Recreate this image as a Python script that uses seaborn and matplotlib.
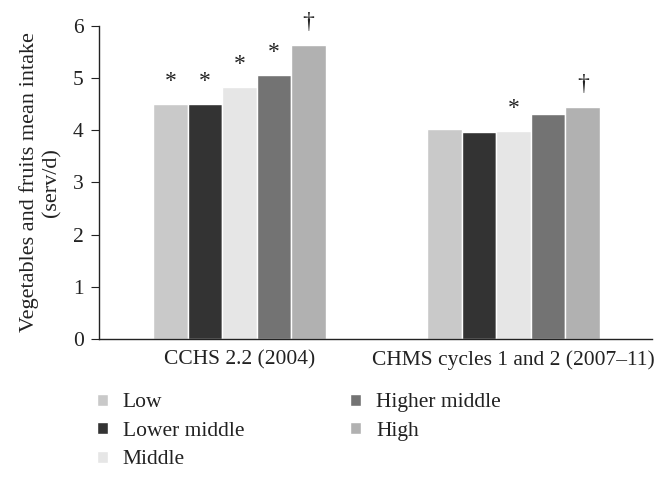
import pandas as pd
import matplotlib
matplotlib.use("Agg")
import matplotlib.pyplot as plt
import seaborn as sns

# Survey groups and income categories
surveys = ["CCHS 2.2 (2004)", "CHMS cycles 1 and 2 (2007\u201311)"]
income = ["Low", "Lower middle", "Middle", "Higher middle", "High"]

# mean intake (serv/d)
cchs_vals = [4.51, 4.50, 4.83, 5.06, 5.64]
chms_vals = [4.02, 3.97, 3.99, 4.31, 4.44]

# significance marks above each bar
cchs_marks = ["*", "*", "*", "*", "\u2020"]
chms_marks = ["", "", "*", "", "\u2020"]

colors = ["#c9c9c9", "#333333", "#e6e6e6", "#737373", "#b1b1b1"]

rows = []
for s, vals, marks in [(surveys[0], cchs_vals, cchs_marks), (surveys[1], chms_vals, chms_marks)]:
    for inc, v, m in zip(income, vals, marks):
        rows.append({"Survey": s, "Income": inc, "Intake": v, "Mark": m})
df = pd.DataFrame(rows)

sns.set_style("white")
plt.rcParams["font.family"] = ["Liberation Serif", "DejaVu Serif"]

fig = plt.figure(figsize=(6.64, 4.78), dpi=100)
ax = fig.add_axes([0.149, 0.291, 0.833, 0.655])

sns.barplot(data=df, x="Survey", y="Intake", hue="Income", hue_order=income,
            palette=colors, width=0.63, saturation=1, ax=ax, legend=True)

# put the marks over the bars
for container, inc in zip(ax.containers, income):
    sub = df[df["Income"] == inc]
    for bar, (_, r) in zip(container, sub.iterrows()):
        if r["Mark"]:
            ax.text(bar.get_x() + bar.get_width() / 2, r["Intake"] + 0.43, r["Mark"],
                    ha="center", va="center", fontsize=17, color="#222222")

ax.set_ylim(0, 6)
ax.set_xlim(-0.513, 1.505)
ax.set_yticks(range(0, 7))
ax.set_xlabel("")
ax.set_ylabel("Vegetables and fruits mean intake\n(serv/d)", fontsize=16, color="#222222",
              linespacing=1.25, labelpad=8)
ax.tick_params(axis="y", labelsize=15.5, left=True, length=6, colors="#222222", pad=5)
ax.tick_params(axis="x", labelsize=15.5, bottom=False, colors="#222222", pad=5)
for side in ["top", "right"]:
    ax.spines[side].set_visible(False)
for side in ["left", "bottom"]:
    ax.spines[side].set_color("#222222")
    ax.spines[side].set_linewidth(1)

handles, labels = ax.get_legend_handles_labels()
ax.legend_.remove()
fig.legend(handles, labels, loc="upper left", bbox_to_anchor=(0.146, 0.177),
           ncol=2, frameon=False, fontsize=15.5, handlelength=0.5, handleheight=0.5,
           handletextpad=0.7, columnspacing=4.93, labelspacing=0.44, borderpad=0,
           borderaxespad=0, labelcolor="#222222")

fig.savefig("out.png", dpi=100)
